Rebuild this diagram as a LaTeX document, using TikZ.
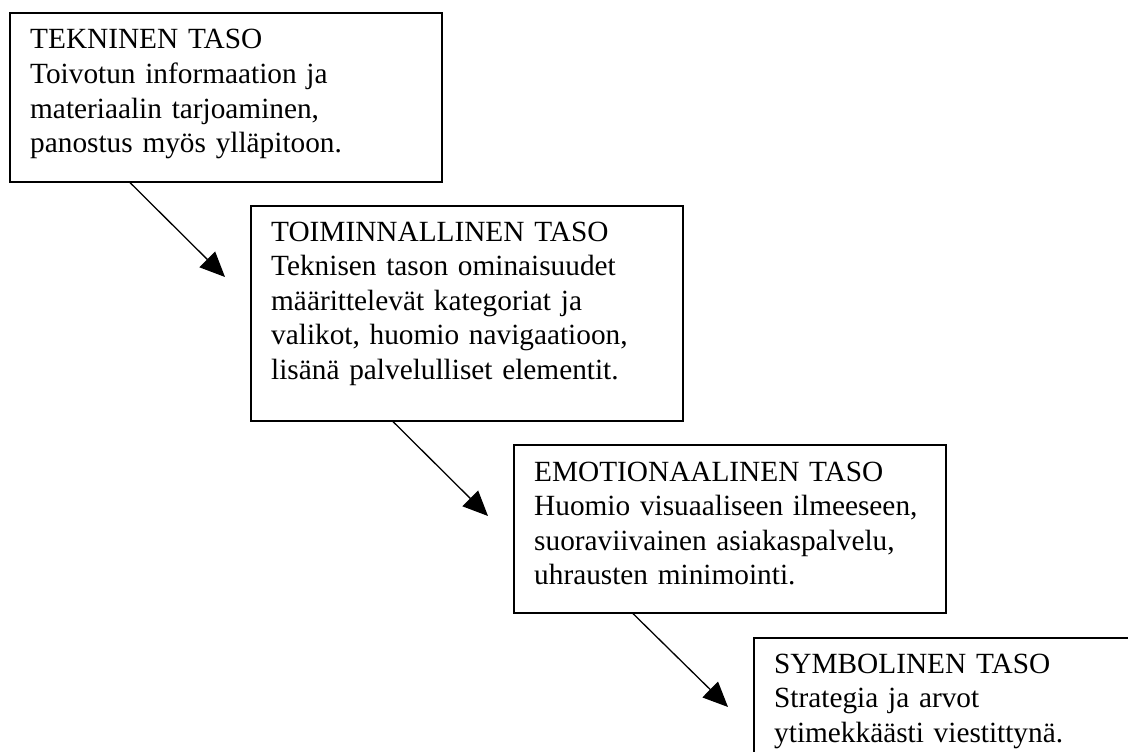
\documentclass[tikz,border=0pt]{standalone}
\usepackage{fontspec}
\setmainfont{Liberation Serif}
\usetikzlibrary{arrows.meta}

\tikzset{
  tasobox/.style={draw=black, line width=1.6pt, rectangle, inner sep=0pt,
    anchor=north west, minimum width=432pt},
  tasotext/.style={anchor=base west, inner sep=0pt, text width=420pt, align=left,
    font=\fontsize{29.3}{34.6}\selectfont},
  nuoli/.style={draw=black, line width=1.3pt,
    -{Triangle[length=25pt,width=22pt]}}
}

\begin{document}
\begin{tikzpicture}[x=1pt, y=-1pt]
  \useasboundingbox (0,0) rectangle (1128,752);
  \clip (0,0) rectangle (1128,752);

  % the four levels, stepping down to the right
  \node[tasobox, minimum height=169pt] (b1) at (9,12) {};
  \node[tasobox, minimum height=215pt] (b2) at (250,205) {};
  \node[tasobox, minimum height=168pt] (b3) at (513,444) {};
  \node[tasobox, minimum height=170pt] (b4) at (753,637) {};

  \node[tasotext] (t1) at (30,49) {TEKNINEN TASO\\
    Toivotun informaation ja\\
    materiaalin tarjoaminen,\\
    panostus myös ylläpitoon.};
  \node[tasotext] (t2) at (271,241) {TOIMINNALLINEN TASO\\
    Teknisen tason ominaisuudet\\
    määrittelevät kategoriat ja\\
    valikot, huomio navigaatioon,\\
    lisänä palvelulliset elementit.};
  \node[tasotext] (t3) at (534,481) {EMOTIONAALINEN TASO\\
    Huomio visuaaliseen ilmeeseen,\\
    suoraviivainen asiakaspalvelu,\\
    uhrausten minimointi.};
  \node[tasotext] (t4) at (774,673) {SYMBOLINEN TASO\\
    Strategia ja arvot\\
    ytimekkäästi viestittynä.};

  % arrow tips pointing at the next level
  \coordinate (k1) at (225,277);
  \coordinate (k2) at (488,516);
  \coordinate (k3) at (728,707);

  \draw[nuoli] ([xshift=121pt]b1.south west) -- (k1);
  \draw[nuoli] ([xshift=143pt]b2.south west) -- (k2);
  \draw[nuoli] ([xshift=120pt]b3.south west) -- (k3);
\end{tikzpicture}
\end{document}
